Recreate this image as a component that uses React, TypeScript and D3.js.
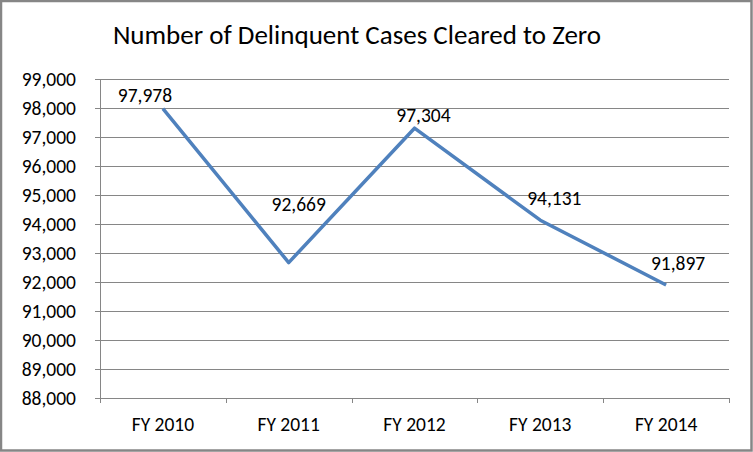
import React from "react";
import * as d3 from "d3";

const categories = ["FY 2010", "FY 2011", "FY 2012", "FY 2013", "FY 2014"];
const values = [97978, 92669, 97304, 94131, 91897];
const yTicks = [88000, 89000, 90000, 91000, 92000, 93000, 94000, 95000, 96000, 97000, 98000, 99000];
const title = "Number of Delinquent Cases Cleared to Zero";
// label placement offsets relative to each point (dx, dy of baseline)
const labelDx = [-18, 10, 9, 14, 12];
const labelDy = [-7, -52, -6, -15, -15];

const W = 753;
const H = 452;
const FONT = "Carlito, Calibri, Lato, sans-serif";

export default function App() {
  const left = 100, right = 729, top = 79, bottom = 398;
  const x = d3.scaleBand<string>().domain(categories).range([left, right]);
  const y = d3.scaleLinear().domain([88000, 99000]).range([bottom, top]);
  const fmt = d3.format(",");
  const line = d3
    .line<number>()
    .x((_, i) => (x(categories[i]) as number) + x.bandwidth() / 2)
    .y((d) => y(d));
  const grid = "#868686";
  const tickXs = [...categories.map((c) => x(c) as number), right];

  return (
    <svg
      width={W}
      height={H}
      style={{ position: "absolute", left: 0, top: 0, background: "#fff" }}
      fontFamily={FONT}
    >
      <rect x={1} y={1} width={W - 2.5} height={H - 2.5} fill="#fff" stroke="#868686" strokeWidth={2.5} />
      <text x={357} y={44} textAnchor="middle" fontSize={27} fill="#000">
        {title}
      </text>
      {yTicks.map((t) => (
        <g key={t}>
          <line x1={left - 5} x2={right} y1={Math.round(y(t)) + 0.5} y2={Math.round(y(t)) + 0.5} stroke={grid} strokeWidth={1} />
          <text x={76} y={y(t)} textAnchor="end" dominantBaseline="central" fontSize={19.5} fill="#000">
            {fmt(t)}
          </text>
        </g>
      ))}
      <line x1={left + 0.5} x2={left + 0.5} y1={top} y2={bottom} stroke={grid} strokeWidth={1} />
      {tickXs.map((tx, i) => (
        <line key={i} x1={Math.round(tx) + 0.5} x2={Math.round(tx) + 0.5} y1={bottom} y2={bottom + 5} stroke={grid} strokeWidth={1} />
      ))}
      {categories.map((c) => (
        <text key={c} x={(x(c) as number) + x.bandwidth() / 2} y={431} textAnchor="middle" fontSize={19.5} fill="#000">
          {c}
        </text>
      ))}
      <path d={line(values) || ""} fill="none" stroke="#4F81BD" strokeWidth={3.5} strokeLinejoin="round" />
      {values.map((v, i) => (
        <text
          key={i}
          x={(x(categories[i]) as number) + x.bandwidth() / 2 + labelDx[i]}
          y={y(v) + labelDy[i]}
          textAnchor="middle"
          fontSize={19.5}
          fill="#000"
        >
          {fmt(v)}
        </text>
      ))}
    </svg>
  );
}
